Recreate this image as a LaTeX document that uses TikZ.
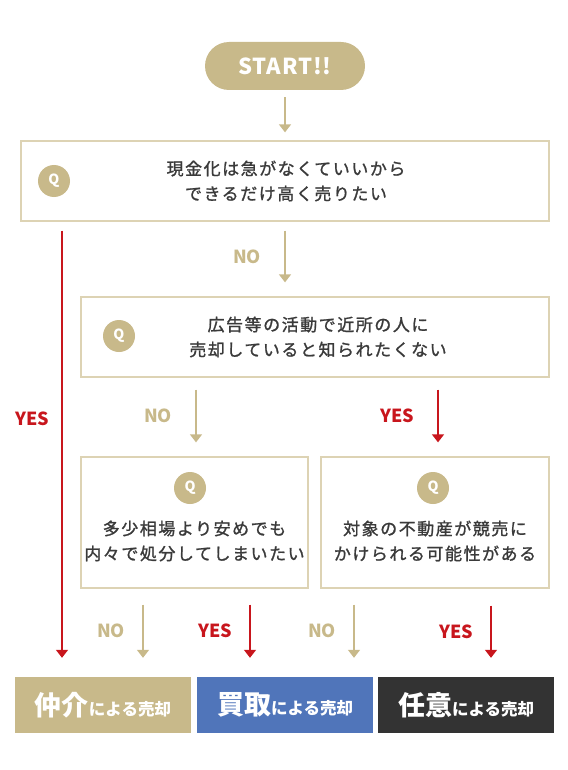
\documentclass[tikz,border=0pt]{standalone}
\usepackage{fontspec}
\setmainfont{Noto Sans CJK JP}
\newfontfamily\jpmed{Noto Sans CJK JP}[FakeBold=1.2]
\definecolor{FCtan}{HTML}{C8B98A}
\definecolor{FCline}{HTML}{DDD3B4}
\definecolor{FCred}{HTML}{C8161D}
\definecolor{FCblue}{HTML}{5075BA}
\definecolor{FCdark}{HTML}{333333}
\definecolor{FCtext}{HTML}{3A3A3A}
\usetikzlibrary{arrows.meta,positioning}
\tikzset{
  qbox/.style={draw=FCline,line width=1.3pt,fill=white,inner sep=0pt},
  qmark/.style={circle,fill=FCtan,minimum size=32pt,inner sep=0pt,text=white,font=\fontsize{14}{14}\selectfont\bfseries},
  qtext/.style={align=center,text=FCtext,font=\jpmed\fontsize{17}{25}\selectfont\addfontfeature{LetterSpace=9}},
  noarr/.style={draw=FCtan,line width=1.4pt,-{Triangle[width=12pt,length=8pt]}},
  yesarr/.style={draw=FCred,line width=1.4pt,-{Triangle[width=12pt,length=8pt]}},
  nolbl/.style={text=FCtan,font=\fontsize{18}{18}\selectfont\bfseries},
  yeslbl/.style={text=FCred,font=\fontsize{18}{18}\selectfont\bfseries},
  result/.style={minimum width=176pt,minimum height=56pt,inner sep=0pt,text=white,font=\bfseries}
}
\newcommand{\bigword}[1]{{\fontsize{27}{27}\selectfont #1}{\fontsize{16.5}{16.5}\selectfont による売却}}

\begin{document}
\begin{tikzpicture}[x=1pt,y=-1pt]
  \useasboundingbox (0,0) rectangle (567,770);
  % start
  \node[fill=FCtan,rounded corners=24pt,minimum width=160pt,minimum height=48pt,text=white,
        font=\fontsize{22}{22}\selectfont\bfseries\addfontfeature{LetterSpace=4}] (start) at (285,66) {START!!};
  % questions
  \node[qbox,minimum width=528pt,minimum height=80pt] (q1) at (285,181) {};
  \node[qmark] (q1m) at (54,181) {Q};
  \node[qtext] (q1t) at (286,181) {現金化は急がなくていいから\\できるだけ高く売りたい};
  \node[qbox,minimum width=468pt,minimum height=80pt] (q2) at (315,337) {};
  \node[qmark] (q2m) at (119,336) {Q};
  \node[qtext] (q2t) at (318,337) {広告等の活動で近所の人に\\売却していると知られたくない};
  \node[qbox,minimum width=227pt,minimum height=131pt] (q3) at (194.5,522.5) {};
  \node[qmark] (q3m) at (190,488) {Q};
  \node[qtext] (q3t) at (194.5,541) {多少相場より安めでも\\内々で処分してしまいたい};
  \node[qbox,minimum width=228pt,minimum height=131pt] (q4) at (435,522.5) {};
  \node[qmark] (q4m) at (433,488) {Q};
  \node[qtext] (q4t) at (435,541) {対象の不動産が競売に\\かけられる可能性がある};
  % results
  \node[result,fill=FCtan] (r1) at (103,705) {\bigword{仲介}};
  \node[result,fill=FCblue] (r2) at (285,705) {\bigword{買取}};
  \node[result,fill=FCdark] (r3) at (466,705) {\bigword{任意}};
  % connectors
  \draw[noarr] ([yshift=-7pt]start.south) -- ([yshift=8pt]q1.north);
  \draw[noarr] ([yshift=-9pt]q1.south) -- ([xshift=-30pt,yshift=14pt]q2.north) node[nolbl,midway,left=20pt] {NO};
  \draw[yesarr] ([xshift=-223pt,yshift=-9pt]q1.south) -- ([xshift=-41pt,yshift=19pt]r1.north) node[yeslbl,pos=0.44,left=9pt] {YES};
  \draw[noarr] ([xshift=-119pt,yshift=-12pt]q2.south) -- ([xshift=1.5pt,yshift=14pt]q3.north) node[nolbl,midway,left=20pt] {NO};
  \draw[yesarr] ([xshift=123pt,yshift=-12pt]q2.south) -- ([xshift=3pt,yshift=14pt]q4.north) node[yeslbl,midway,left=20pt] {YES};
  \draw[noarr] ([xshift=-51.5pt,yshift=-16pt]q3.south) -- ([xshift=40pt,yshift=19pt]r1.north) node[nolbl,midway,left=14pt] {NO};
  \draw[yesarr] ([xshift=55.5pt,yshift=-16pt]q3.south) -- ([xshift=-35pt,yshift=19pt]r2.north) node[yeslbl,midway,left=14pt] {YES};
  \draw[noarr] ([xshift=-81pt,yshift=-16pt]q4.south) -- ([xshift=-112pt,yshift=19pt]r3.north) node[nolbl,midway,left=14pt] {NO};
  \draw[yesarr] ([xshift=56pt,yshift=-17pt]q4.south) -- ([xshift=25pt,yshift=19pt]r3.north) node[yeslbl,midway,left=14pt] {YES};
\end{tikzpicture}
\end{document}
